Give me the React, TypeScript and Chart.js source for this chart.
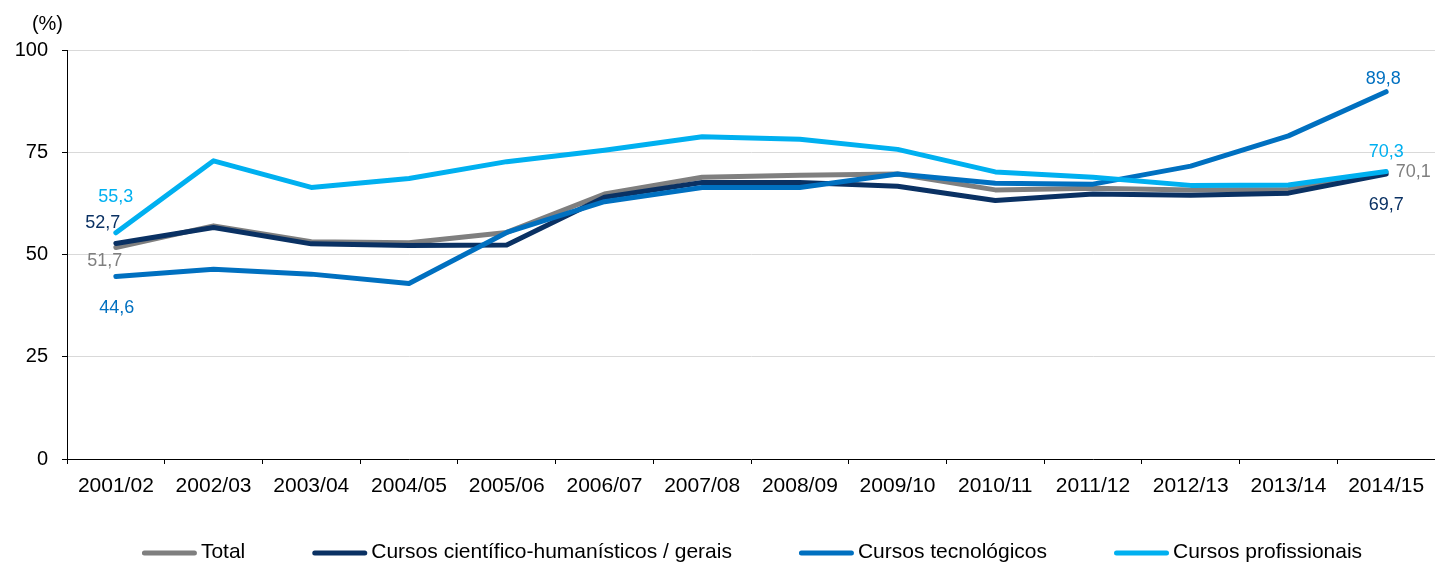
import React, { useEffect, useRef } from 'react';
import { Chart, registerables } from 'chart.js';

Chart.register(...registerables);

const categories = [
  '2001/02', '2002/03', '2003/04', '2004/05', '2005/06', '2006/07', '2007/08',
  '2008/09', '2009/10', '2010/11', '2011/12', '2012/13', '2013/14', '2014/15',
];
const seriesNames = [
  'Total',
  'Cursos científico-humanísticos / gerais',
  'Cursos tecnológicos',
  'Cursos profissionais',
];
const totalValues = [51.7, 57.0, 53.1, 52.9, 55.4, 64.8, 68.9, 69.4, 69.7, 65.8, 66.2, 65.8, 65.9, 70.1];
const cientificoValues = [52.7, 56.6, 52.6, 52.2, 52.3, 64.0, 67.6, 67.6, 66.7, 63.2, 64.8, 64.5, 65.0, 69.7];
const tecnologicoValues = [44.6, 46.4, 45.2, 42.9, 55.4, 62.9, 66.4, 66.4, 69.7, 67.4, 67.2, 71.6, 79.0, 89.8];
const profissionalValues = [55.3, 72.9, 66.4, 68.6, 72.7, 75.5, 78.8, 78.2, 75.7, 70.2, 68.9, 66.9, 67.0, 70.3];
const yTickValues = [0, 25, 50, 75, 100];
const yAxisUnit = '(%)';

// styling
const seriesColors = ['#7f7f7f', '#0a3163', '#0070c0', '#00b0f0'];
const drawOrder = [4, 3, 2, 1];
// label offsets (dx, dy) relative to first / last point
const firstLabelOffsets = [[-11, 13], [-13, -20], [1, 31], [0, -36]];
const lastLabelOffsets = [[27, 0], [0, 31], [-3, -13], [0, -19]];

const FONT = '"Liberation Sans", Arial, Helvetica, sans-serif';

const fmt = (v: number) => v.toFixed(1).replace('.', ',');

const labelsPlugin = {
  id: 'endLabels',
  afterDatasetsDraw(chart: any) {
    const ctx = chart.ctx;
    ctx.save();
    ctx.font = `18px ${FONT}`;
    ctx.textAlign = 'center';
    ctx.textBaseline = 'middle';
    chart.data.datasets.forEach((ds: any, i: number) => {
      const meta = chart.getDatasetMeta(i);
      const pts = meta.data;
      const first = pts[0];
      const last = pts[pts.length - 1];
      ctx.fillStyle = ds.borderColor;
      ctx.fillText(fmt(ds.data[0]), first.x + firstLabelOffsets[i][0], first.y + firstLabelOffsets[i][1]);
      ctx.fillText(fmt(ds.data[ds.data.length - 1]), last.x + lastLabelOffsets[i][0], last.y + lastLabelOffsets[i][1]);
    });
    ctx.restore();
  },
};

const extrasPlugin = {
  id: 'extras',
  afterDraw(chart: any) {
    const ctx = chart.ctx;
    const area = chart.chartArea;
    ctx.save();
    // unit label
    ctx.font = `20px ${FONT}`;
    ctx.fillStyle = '#000';
    ctx.textAlign = 'right';
    ctx.textBaseline = 'middle';
    ctx.fillText(yAxisUnit, area.left - 4, area.top - 26);

    // legend
    ctx.font = `21px ${FONT}`;
    const lineLen = 50;
    const lineW = 5;
    const gapLineText = 4 + lineW;
    const itemGap = 67;
    const items = chart.data.datasets.map((ds: any) => ({
      label: ds.label,
      color: ds.borderColor,
      w: lineLen + lineW + 4 + ctx.measureText(ds.label).width,
    }));
    const total = items.reduce((s: number, it: any) => s + it.w, 0) + itemGap * (items.length - 1);
    const cx = (area.left + area.right) / 2 + 1;
    let x = cx - total / 2;
    const y = 552;
    ctx.textAlign = 'left';
    items.forEach((it: any) => {
      ctx.strokeStyle = it.color;
      ctx.lineWidth = lineW;
      ctx.lineCap = 'round';
      ctx.beginPath();
      ctx.moveTo(x + lineW / 2, y + 1);
      ctx.lineTo(x + lineW / 2 + lineLen, y + 1);
      ctx.stroke();
      ctx.fillStyle = '#000';
      ctx.fillText(it.label, x + lineLen + gapLineText, y);
      x += it.w + itemGap;
    });
    ctx.restore();
  },
};

export default function App() {
  const ref = useRef<HTMLCanvasElement>(null);
  useEffect(() => {
    document.body.style.margin = '0';
    const seriesValues = [totalValues, cientificoValues, tecnologicoValues, profissionalValues];
    const chart = new Chart(ref.current as HTMLCanvasElement, {
      type: 'line',
      data: {
        labels: categories,
        datasets: seriesNames.map((name, i) => ({
          label: name,
          data: seriesValues[i],
          borderColor: seriesColors[i],
          backgroundColor: seriesColors[i],
          borderWidth: 5,
          pointRadius: 0,
          tension: 0,
          fill: false,
          borderCapStyle: 'round',
          borderJoinStyle: 'round',
          order: drawOrder[i],
        })),
      },
      options: {
        animation: false,
        responsive: true,
        maintainAspectRatio: false,
        events: [],
        layout: { padding: { top: 50, left: 0, right: 0, bottom: 65 } },
        plugins: {
          legend: { display: false },
          tooltip: { enabled: false },
          title: { display: false },
        },
        scales: {
          x: {
            type: 'category',
            offset: true,
            grid: {
              display: true,
              drawOnChartArea: false,
              drawTicks: true,
              tickLength: 5,
              tickColor: '#000',
              offset: true,
            },
            border: { display: true, color: '#000', width: 1 },
            ticks: {
              font: { family: FONT, size: 21 },
              color: '#000',
              padding: 10,
              maxRotation: 0,
              autoSkip: false,
            },
            afterFit: (scale: any) => {
              scale.height = 42;
            },
          },
          y: {
            min: 0,
            max: 100,
            afterBuildTicks: (scale: any) => {
              scale.ticks = yTickValues.map((v) => ({ value: v }));
            },
            grid: {
              color: (c: any) => (c.tick && c.tick.value === 0 ? 'rgba(0,0,0,0)' : '#d9d9d9'),
              lineWidth: 1,
              drawTicks: true,
              tickLength: 5,
              tickColor: '#000',
            },
            border: { display: true, color: '#000', width: 1 },
            ticks: {
              font: { family: FONT, size: 20 },
              color: '#000',
              padding: 14,
            },
            afterFit: (scale: any) => {
              scale.width = 67;
            },
          },
        },
      },
      plugins: [labelsPlugin, extrasPlugin],
    } as any);
    return () => chart.destroy();
  }, []);
  return (
    <div style={{ width: 1435, height: 566, position: 'relative' }}>
      <canvas ref={ref} />
    </div>
  );
}
